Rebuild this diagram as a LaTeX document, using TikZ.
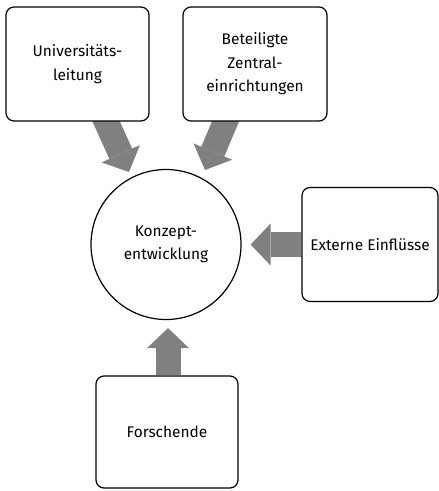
\documentclass[tikz,border=0pt]{standalone}
\usepackage{fontspec}
\setmainfont{Fira Sans}
\usetikzlibrary{arrows.meta,backgrounds,calc}
\definecolor{arrowgray}{RGB}{128,128,128}
\tikzset{
  box/.style={draw,fill=white,line width=1.2bp,rounded corners=8bp,align=center,
    font=\fontsize{15.5}{23.5}\selectfont},
  bigarrow/.style={draw=arrowgray,line width=25bp,
    -{Triangle[length=20bp,width=42bp,line width=0pt]}}
}
\begin{document}
\begin{tikzpicture}[x=1bp,y=-1bp]
        \useasboundingbox (0,0) rectangle (439,491);

        \node[box,minimum width=143bp,minimum height=114bp] (uni) at (77.5,64) {Universitäts-\\leitung};
        \node[box,minimum width=144bp,minimum height=114bp] (zentral) at (255,64) {Beteiligte\\Zentral-\\einrichtungen};
        \node[box,minimum width=136bp,minimum height=114bp] (extern) at (370,244.5) {Externe Einflüsse};
        \node[box,minimum width=142bp,minimum height=112bp] (forsch) at (167,432) {Forschende};
        \node[box,circle,rounded corners=0pt,minimum size=150bp] (konzept) at (166,244.5) {Konzept-\\entwicklung};

        \coordinate (t1) at (129,172);
        \coordinate (t2) at (205,170);

        \begin{scope}[on background layer]
        \draw[bigarrow] ($(uni.south)+(26,-6)$) -- (t1);
        \draw[bigarrow] ($(zentral.south)+(-27,-6)$) -- (t2);
        \draw[bigarrow] (extern.west) -- ([xshift=9bp]konzept.east);
        \draw[bigarrow] ([xshift=1bp]forsch.north) -- ([xshift=1bp,yshift=-8bp]forsch.north |- konzept.south);
        \end{scope}
      \end{tikzpicture}
\end{document}
